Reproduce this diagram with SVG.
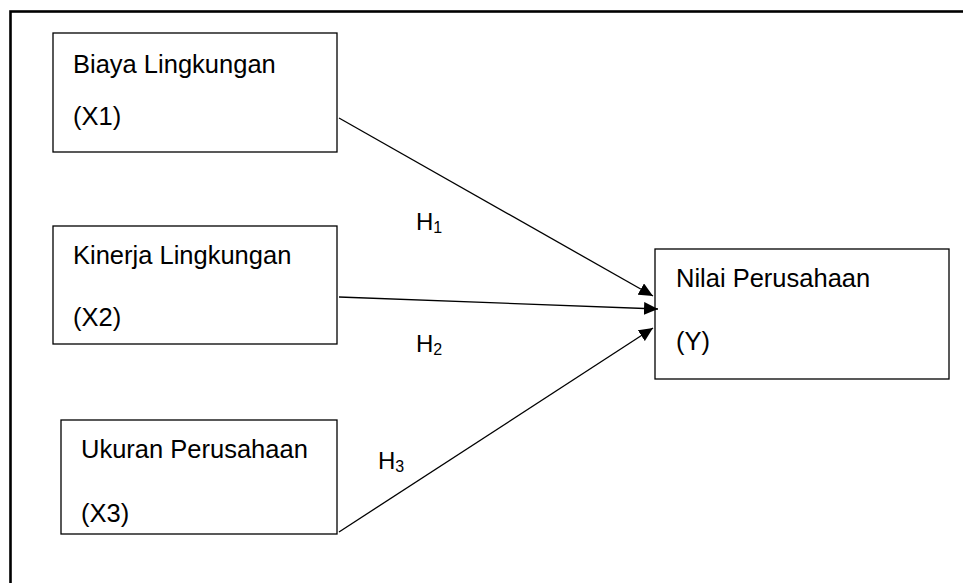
<svg xmlns="http://www.w3.org/2000/svg" width="963" height="583" viewBox="0 0 963 583">
<style>
.box{fill:#fff;stroke:#000;stroke-width:1.3}
.t{font-family:"Liberation Sans",Arial,sans-serif;font-size:25.5px;fill:#000}
.h{font-family:"Liberation Sans",Arial,sans-serif;font-size:24px;fill:#000}
.sub{font-size:16px}
.c{stroke:#000;stroke-width:1.3;fill:none;marker-end:url(#ah)}
</style>
<defs>
<marker id="ah" markerUnits="userSpaceOnUse" markerWidth="15" markerHeight="13" refX="14" refY="6.5" orient="auto">
<path d="M0,0 L14,6.5 L0,13 z" fill="#000"/>
</marker>
</defs>
<rect x="0" y="0" width="963" height="583" fill="#fff"/>
<rect x="10.5" y="11.5" width="970" height="600" fill="none" stroke="#000" stroke-width="2.6"/>
<g id="x1">
<rect class="box" x="53" y="33" width="284" height="119"/>
<text class="t" x="73" y="73">Biaya Lingkungan</text>
<text class="t" x="73" y="125">(X1)</text>
</g>
<g id="x2">
<rect class="box" x="53" y="226" width="284" height="118"/>
<text class="t" x="73" y="264">Kinerja Lingkungan</text>
<text class="t" x="73" y="326">(X2)</text>
</g>
<g id="x3">
<rect class="box" x="61" y="420" width="276" height="114"/>
<text class="t" x="81" y="458">Ukuran Perusahaan</text>
<text class="t" x="81" y="522">(X3)</text>
</g>
<g id="y">
<rect class="box" x="655" y="249" width="294" height="130"/>
<text class="t" x="676" y="287">Nilai Perusahaan</text>
<text class="t" x="676" y="350">(Y)</text>
</g>
<g id="connectors">
<line class="c" x1="339" y1="118" x2="653" y2="296"/>
<line class="c" x1="339" y1="297" x2="658" y2="309"/>
<line class="c" x1="339" y1="532" x2="653" y2="328"/>
</g>
<g id="labels">
<text class="h" x="416" y="230">H<tspan class="sub" dy="3">1</tspan></text>
<text class="h" x="416" y="352">H<tspan class="sub" dy="3">2</tspan></text>
<text class="h" x="378" y="469">H<tspan class="sub" dy="3">3</tspan></text>
</g>
</svg>
